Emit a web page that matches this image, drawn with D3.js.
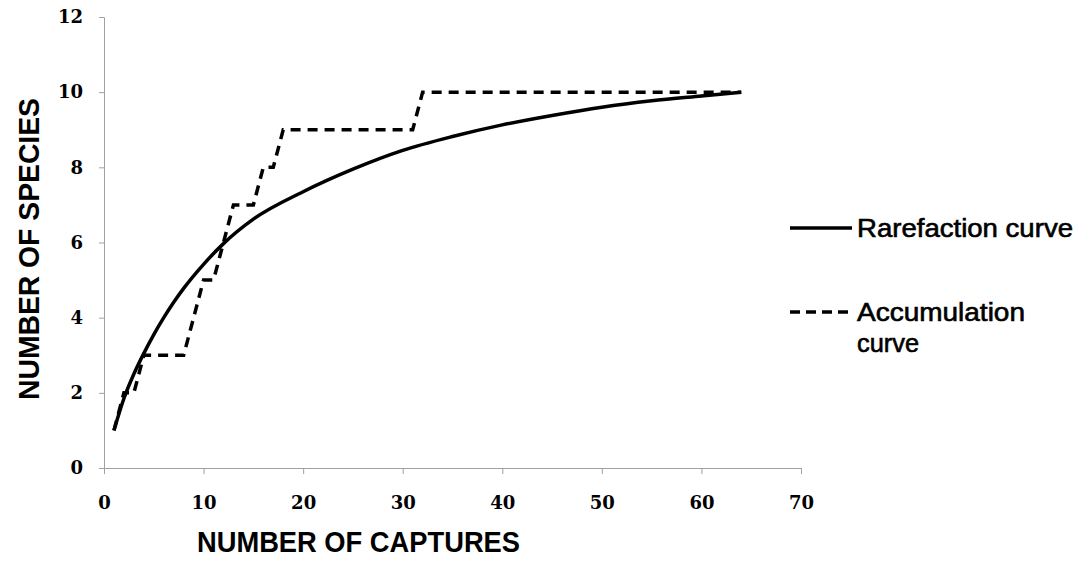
<!DOCTYPE html>
<html>
<head>
<meta charset="utf-8">
<script src="https://cdn.jsdelivr.net/npm/d3@7"></script>
<style>
  body { margin: 0; background: #fff; }
</style>
</head>
<body>
<div id="chart"></div>
<script>
// data
var rareX = [1, 2, 3, 4, 5, 6, 7, 8, 10, 12, 15, 20, 25, 30, 35, 40, 45, 50, 55, 60, 64];
var rareY = [1, 1.85, 2.5, 3.05, 3.55, 4.0, 4.41, 4.78, 5.42, 5.97, 6.62, 7.35, 7.95, 8.45, 8.82, 9.13, 9.38, 9.6, 9.77, 9.9, 10];
var accX = [1, 2, 3, 4, 8, 10, 11, 13, 15, 16, 17, 18, 31, 32, 64];
var accY = [1, 2, 2, 3, 3, 5, 5, 7, 7, 8, 8, 9, 9, 10, 10];
var xTicks = [0, 10, 20, 30, 40, 50, 60, 70];
var yTicks = [0, 2, 4, 6, 8, 10, 12];
var legendLabels = ["Rarefaction curve", "Accumulation curve"];

var totwidth = 1081,
	totheight = 568,
	paddingLeft = 104,
	paddingTop = 17;

var svg = d3.select("#chart").append("svg")
	.attr("width", totwidth)
	.attr("height", totheight);

// Scales

var x = d3.scaleLinear().domain([0, 70]).range([paddingLeft, 801]);
var y = d3.scaleLinear().domain([0, 12]).range([468, paddingTop]);

// Axes

var xAxis = d3.axisBottom(x).tickValues(xTicks).tickSize(6).tickPadding(22);
var yAxis = d3.axisLeft(y).tickValues(yTicks).tickSize(5).tickPadding(16);

var gx = svg.append("g")
	.attr("transform", "translate(0," + y(0) + ")")
	.call(xAxis);
var gy = svg.append("g")
	.attr("transform", "translate(" + x(0) + ",0)")
	.call(yAxis);

[gx, gy].forEach(function(g) {
	g.select(".domain").attr("stroke", "#a0a0a0");
	g.selectAll(".tick line").attr("stroke", "#a0a0a0");
	g.selectAll(".tick text")
		.attr("fill", "#000")
		.style("font-family", "'DejaVu Serif', serif")
		.style("font-weight", "bold")
		.style("font-size", "18px");
});

// Lines

var linefun = d3.line()
	.x(function(d) { return x(d[0]); })
	.y(function(d) { return y(d[1]); });

var rareData = rareX.map(function(v, i) { return [v, rareY[i]]; });
var accData = accX.map(function(v, i) { return [v, accY[i]]; });

svg.append("path")
	.attr("d", linefun.curve(d3.curveMonotoneX)(rareData))
	.attr("fill", "none")
	.attr("stroke", "#000")
	.attr("stroke-width", 3.5);

svg.append("path")
	.attr("d", linefun.curve(d3.curveLinear)(accData))
	.attr("fill", "none")
	.attr("stroke", "#000")
	.attr("stroke-width", 3.5)
	.attr("stroke-dasharray", "10,7");

// Axis titles (condensed with textLength, no narrow font installed)

var tfont = "'Liberation Sans', Arial, sans-serif";

svg.append("text")
	.attr("x", 197)
	.attr("y", 552)
	.attr("textLength", 323)
	.attr("lengthAdjust", "spacingAndGlyphs")
	.style("font-family", tfont)
	.style("font-weight", "bold")
	.style("font-size", "29px")
	.text("NUMBER OF CAPTURES");

svg.append("text")
	.attr("transform", "translate(39,400) rotate(-90)")
	.attr("textLength", 302)
	.attr("lengthAdjust", "spacingAndGlyphs")
	.style("font-family", tfont)
	.style("font-weight", "bold")
	.style("font-size", "29px")
	.text("NUMBER OF SPECIES");

// Legend

var legend = svg.append("g").attr("transform", "translate(790,0)");

legend.append("line")
	.attr("x1", 0).attr("x2", 62)
	.attr("y1", 228).attr("y2", 228)
	.attr("stroke", "#000").attr("stroke-width", 3.5);

legend.append("line")
	.attr("x1", 0).attr("x2", 62)
	.attr("y1", 312).attr("y2", 312)
	.attr("stroke", "#000").attr("stroke-width", 3.5)
	.attr("stroke-dasharray", "10,6");

function legendText(str, ty, len) {
	legend.append("text")
		.attr("x", 67).attr("y", ty)
		.attr("textLength", len)
		.attr("lengthAdjust", "spacingAndGlyphs")
		.style("font-family", tfont)
		.style("font-size", "25px")
		.style("stroke", "#000")
		.style("stroke-width", 0.6)
		.text(str);
}

legendText(legendLabels[0], 237, 216);
legendText(legendLabels[1].split(" ")[0], 321, 168);
legendText(legendLabels[1].split(" ")[1], 352, 62);
</script>
</body>
</html>
